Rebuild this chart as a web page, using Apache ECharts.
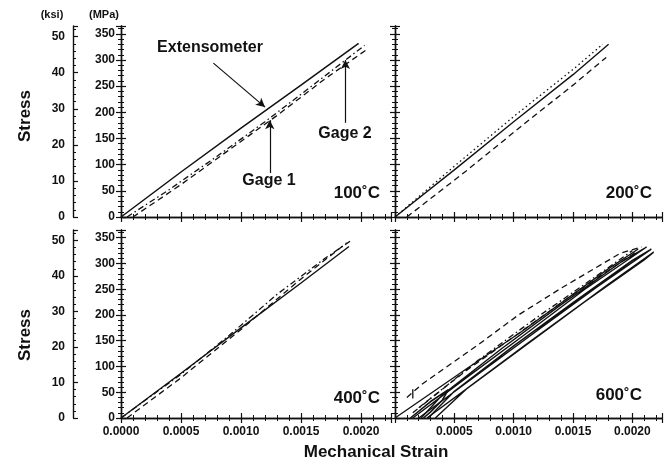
<!DOCTYPE html>
<html>
<head>
<meta charset="utf-8">
<script src="https://cdn.jsdelivr.net/npm/echarts@6/dist/echarts.min.js"></script>
<style>
  html, body { margin: 0; background: #fff; }
  #chart { width: 672px; height: 464px; }
</style>
</head>
<body>
<div id="chart"></div>
<script>
// strain / stress (MPa) pairs
const ext100 = [[0, 0], [0.0005, 86], [0.001, 170], [0.0015, 252], [0.00198, 332]];
const gage1_100 = [[0.00005, 0], [0.0004, 52], [0.0008, 116], [0.0012, 182], [0.0016, 252], [0.00203, 328]];
const gage2_100 = [[0.0001, 0], [0.0005, 62], [0.0009, 128], [0.0013, 194], [0.0017, 264], [0.00206, 322]];

const ext200 = [[0, 0], [0.0005, 90], [0.001, 182], [0.0015, 272], [0.0018, 330]];
const dot200 = [[0, 0], [0.0005, 97], [0.001, 192], [0.0015, 282], [0.00175, 330]];
const dash200 = [[0.0001, 0], [0.0006, 88], [0.0011, 180], [0.0015, 252], [0.00178, 305]];

const ext400 = [[0, 0], [0.0005, 87], [0.001, 175], [0.0015, 262], [0.0019, 333]];
const dash400 = [[0.00005, 0], [0.0005, 78], [0.001, 172], [0.0015, 270], [0.00188, 340]];
const dashdot400 = [[0, 0], [0.0005, 85], [0.0009, 160], [0.0013, 240], [0.0017, 310], [0.00192, 345]];

const outer600 = [[0, 0], [0.0006, 95], [0.00105, 165], [0.0018, 290], [0.00205, 328]];
const loopA600 = [[0.00015, 0], [0.0006, 78], [0.0011, 163], [0.0016, 250], [0.00212, 332], [0.0019, 302], [0.0014, 220], [0.0009, 135], [0.0004, 45], [0.00022, 0]];
const loopB600 = [[0.0002, 0], [0.0007, 85], [0.0012, 170], [0.0017, 254], [0.00216, 328], [0.002, 306], [0.0015, 224], [0.001, 140], [0.0005, 52], [0.00028, 0]];
const loopC600 = [[0.00027, 0], [0.0008, 90], [0.0013, 175], [0.0018, 260], [0.00218, 322], [0.0021, 307], [0.0016, 226], [0.0011, 142], [0.0006, 56], [0.00034, 0]];
const loopD600 = [[0.00013, 0], [0.0003, 32], [0.00045, 55], [0.0004, 35], [0.0003, 12], [0.00024, 0]];
const dashA600 = [[0.0001, 40], [0.00023, 66], [0.0007, 142], [0.00104, 200], [0.0014, 252], [0.0019, 320], [0.00208, 332]];
const dashB600 = [[0.0002, 20], [0.0006, 92], [0.0011, 174], [0.0015, 240], [0.0019, 302], [0.00205, 325]];
const dashdot600 = [[0.00015, 10], [0.0007, 112], [0.0012, 196], [0.0016, 260], [0.002, 325]];
const tick600 = [[0.00015, 38], [0.00015, 56]];

// arrows in the 100°C panel
const arrows100 = [
  [[0.00077, 294], [0.0012, 210]],
  [[0.00124, 84], [0.00124, 185]],
  [[0.00187, 180], [0.00187, 300]]
];

const strainMax = 0.00225;
const mpaMax = 365;
const MPA_PER_KSI = 6.894757;

const font = '"Liberation Sans", Arial, sans-serif';
const ink = '#111';

const panels = [
  { left: 121, top: 26, width: 270, height: 191, xLabels: false, yLabels: true, zeroX: true },
  { left: 395, top: 26, width: 267, height: 191, xLabels: false, yLabels: false, zeroX: true },
  { left: 121, top: 230, width: 270, height: 188, xLabels: true, yLabels: true, zeroX: true },
  { left: 395, top: 230, width: 267, height: 188, xLabels: true, yLabels: false, zeroX: false }
];

const onStep = (v, step) => Math.abs(v / step - Math.round(v / step)) < 1e-6;

const grid = [], xAxis = [], yAxis = [], mpaIndex = [];
panels.forEach((p, i) => {
  grid.push({ left: p.left, top: p.top, width: p.width, height: p.height });
  const base = {
    gridIndex: i, type: 'value',
    axisLine: { show: true, lineStyle: { color: ink, width: 1.4 } },
    axisTick: { inside: true, length: 5, lineStyle: { color: ink, width: 1.2 } },
    minorTick: { show: true, splitNumber: 5, length: 3, lineStyle: { color: ink, width: 1 } },
    splitLine: { show: false },
    minorSplitLine: { show: false }
  };
  xAxis.push(Object.assign({}, base, {
    position: 'bottom', min: 0, max: strainMax, interval: 0.0005,
    axisLabel: {
      show: p.xLabels, color: ink, fontFamily: font, fontWeight: 'bold', fontSize: 12, margin: 8,
      formatter: v => (onStep(v, 0.0005) && (p.zeroX || v > 0)) ? v.toFixed(4) : ''
    }
  }));
  xAxis.push(Object.assign({}, base, {
    position: 'top', min: 0, max: strainMax, interval: 0.0005, axisLabel: { show: false }
  }));
  mpaIndex.push(yAxis.length);
  yAxis.push(Object.assign({}, base, {
    position: 'left', min: 0, max: mpaMax, interval: 50,
    axisLabel: {
      show: p.yLabels, color: ink, fontFamily: font, fontWeight: 'bold', fontSize: 12, margin: 6,
      formatter: v => onStep(v, 50) ? String(v) : ''
    }
  }));
  yAxis.push(Object.assign({}, base, {
    position: 'right', min: 0, max: mpaMax, interval: 50, axisLabel: { show: false }
  }));
  if (p.yLabels) {
    // second stress scale in ksi, drawn left of the MPa one
    yAxis.push(Object.assign({}, base, {
      position: 'left', offset: 48, min: 0, max: mpaMax / MPA_PER_KSI, interval: 10,
      axisLabel: {
        color: ink, fontFamily: font, fontWeight: 'bold', fontSize: 12, margin: 8,
        formatter: v => onStep(v, 10) ? String(Math.round(v)) : ''
      }
    }));
  }
});

const dashes = { solid: 'solid', dashed: [6, 4], dotted: [1.5, 3], dashdot: [6, 3, 1.5, 3] };

function line(data, panel, style, width) {
  return {
    type: 'line', data: data, xAxisIndex: panel * 2, yAxisIndex: mpaIndex[panel],
    showSymbol: false, symbol: 'none', silent: true, animation: false,
    lineStyle: { color: ink, width: width || 1.3, type: dashes[style] }
  };
}

const series = [
  line(ext100, 0, 'solid', 1.5),
  line(gage1_100, 0, 'dashdot'),
  line(gage2_100, 0, 'dashed'),
  line(ext200, 1, 'solid', 1.4),
  line(dot200, 1, 'dotted'),
  line(dash200, 1, 'dashed'),
  line(ext400, 2, 'solid', 1.4),
  line(dash400, 2, 'dashed'),
  line(dashdot400, 2, 'dashdot'),
  line(outer600, 3, 'solid', 1.3),
  line(loopA600, 3, 'solid', 1.4),
  line(loopB600, 3, 'solid', 1.4),
  line(loopC600, 3, 'solid', 1.4),
  line(loopD600, 3, 'solid', 1.6),
  line(dashA600, 3, 'dashed'),
  line(dashB600, 3, 'dashed'),
  line(dashdot600, 3, 'dashdot'),
  line(tick600, 3, 'solid', 1.3)
];

series[0].markLine = {
  silent: true, animation: false,
  symbol: ['none', 'arrow'], symbolSize: [7, 9],
  label: { show: false },
  lineStyle: { color: ink, width: 1.2, type: 'solid' },
  data: arrows100.map(a => [{ coord: a[0] }, { coord: a[1] }])
};

function txt(x, y, text, size, align, rotation) {
  return {
    type: 'text', x: x, y: y, rotation: rotation || 0, silent: true,
    style: {
      text: text, fill: ink, font: 'bold ' + size + 'px ' + font,
      align: align || 'center', verticalAlign: 'middle'
    }
  };
}

const graphic = [
  txt(52, 15, '(ksi)', 11),
  txt(104, 15, '(MPa)', 11),
  txt(25, 116, 'Stress', 17, 'center', Math.PI / 2),
  txt(25, 335, 'Stress', 17, 'center', Math.PI / 2),
  txt(376, 452, 'Mechanical Strain', 17),
  txt(210, 48, 'Extensometer', 16),
  txt(269, 181, 'Gage 1', 16),
  txt(345, 134, 'Gage 2', 16),
  txt(380, 193, '100˚C', 17, 'right'),
  txt(652, 193, '200˚C', 17, 'right'),
  txt(380, 398, '400˚C', 17, 'right'),
  txt(642, 395, '600˚C', 17, 'right')
];

const chart = echarts.init(document.getElementById('chart'), null, { renderer: 'canvas' });
chart.setOption({
  backgroundColor: '#fff',
  animation: false,
  grid: grid,
  xAxis: xAxis,
  yAxis: yAxis,
  series: series,
  graphic: graphic
});
</script>
</body>
</html>
